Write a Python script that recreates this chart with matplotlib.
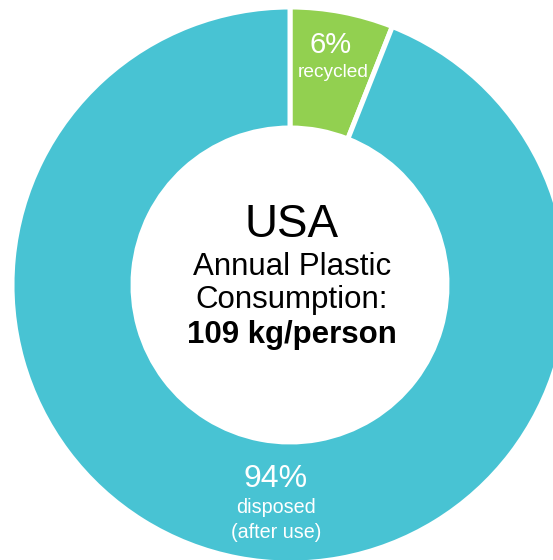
import matplotlib.pyplot as plt

plt.rcParams['font.family'] = ['Liberation Sans', 'DejaVu Sans']

# data
labels = ['recycled', 'disposed']
shares = [6, 94]
colors = ['#92D050', '#48C3D3']
country = 'USA'
consumption = 109  # kg/person

W, H = 553, 560
fig = plt.figure(figsize=(W / 100, H / 100), dpi=100)
ax = fig.add_axes([0, 0, 1, 1])

cx, cy = 290, H - 285
r_out, r_in = 278, 157
ax.pie(shares, colors=colors, startangle=90, counterclock=False,
       center=(cx, cy), radius=r_out, frame=True,
       wedgeprops=dict(width=r_out - r_in, edgecolor='white', linewidth=3.6))
ax.set_xlim(0, W)
ax.set_ylim(0, H)
ax.set_aspect('equal')
ax.axis('off')

def put(x, y, s, size, color='white', weight='normal'):
    ax.text(x, H - y, s, ha='center', va='baseline', fontsize=size,
            color=color, fontweight=weight)

# slice labels
put(331, 53, f'{shares[0]}%', 21)
put(333, 77, labels[0], 13.8)
put(276, 487, f'{shares[1]}%', 23)
put(276, 513, labels[1], 14.2)
put(276, 538, '(after use)', 14.2)

# centre text
put(292, 237, country, 33, color='black')
put(292, 275, 'Annual Plastic', 22.5, color='black')
put(292, 308, 'Consumption:', 22.5, color='black')
put(292, 343, f'{consumption} kg/person', 22.5, color='black', weight='bold')

fig.savefig('out.png', dpi=100)
